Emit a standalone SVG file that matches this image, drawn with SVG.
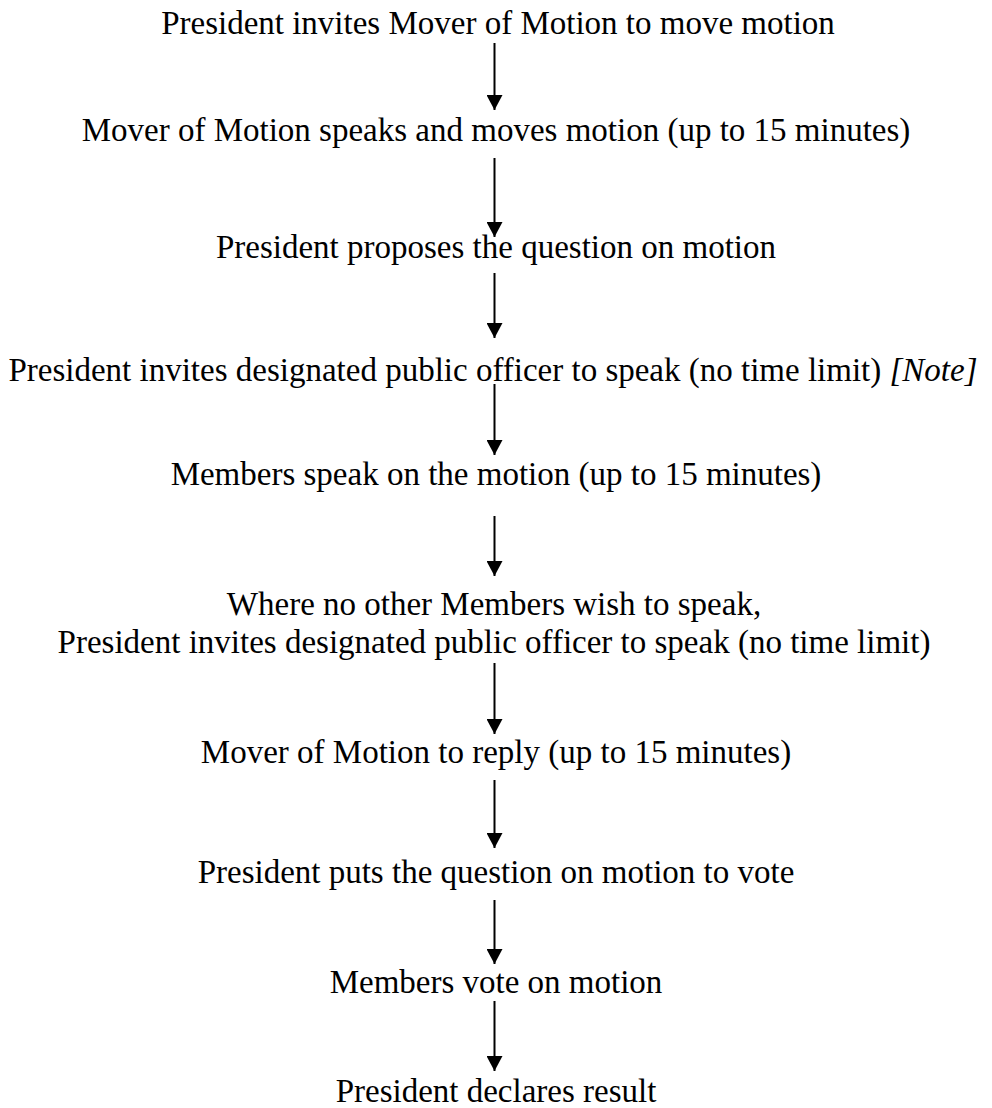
<svg xmlns="http://www.w3.org/2000/svg" width="992" height="1108" viewBox="0 0 992 1108">
<style>
.t{font-family:"Liberation Serif","Times New Roman",serif;font-size:33px;fill:#000;text-anchor:middle}
.i{font-style:italic}
.c line{stroke:#000;stroke-width:2}
</style>
<defs>
<marker id="ah" markerUnits="userSpaceOnUse" markerWidth="16" markerHeight="16" refX="15" refY="8" orient="auto">
<path d="M0,0 L15,8 L0,16 Z" fill="#000"/>
</marker>
</defs>
<rect width="992" height="1108" fill="#fff"/>
<g id="n1"><text class="t" x="498" y="34">President invites Mover of Motion to move motion</text></g>
<g id="n2"><text class="t" x="496" y="141">Mover of Motion speaks and moves motion (up to 15 minutes)</text></g>
<g id="n3"><text class="t" x="496" y="258">President proposes the question on motion</text></g>
<g id="n4"><text class="t" x="493" y="381">President invites designated public officer to speak (no time limit) <tspan class="i">[Note]</tspan></text></g>
<g id="n5"><text class="t" x="496" y="485">Members speak on the motion (up to 15 minutes)</text></g>
<g id="n6"><text class="t" x="494" y="615">Where no other Members wish to speak,</text><text class="t" x="494" y="653">President invites designated public officer to speak (no time limit)</text></g>
<g id="n7"><text class="t" x="496" y="763">Mover of Motion to reply (up to 15 minutes)</text></g>
<g id="n8"><text class="t" x="496" y="883">President puts the question on motion to vote</text></g>
<g id="n9"><text class="t" x="496" y="993">Members vote on motion</text></g>
<g id="n10"><text class="t" x="496" y="1102">President declares result</text></g>
<g id="connectors" class="c">
<line x1="494.5" y1="43" x2="494.5" y2="110" marker-end="url(#ah)"/>
<line x1="494.5" y1="158" x2="494.5" y2="237" marker-end="url(#ah)"/>
<line x1="494.5" y1="273" x2="494.5" y2="338" marker-end="url(#ah)"/>
<line x1="494.5" y1="384" x2="494.5" y2="455" marker-end="url(#ah)"/>
<line x1="494.5" y1="516" x2="494.5" y2="576" marker-end="url(#ah)"/>
<line x1="494.5" y1="663" x2="494.5" y2="734" marker-end="url(#ah)"/>
<line x1="494.5" y1="780" x2="494.5" y2="848" marker-end="url(#ah)"/>
<line x1="494.5" y1="900" x2="494.5" y2="964" marker-end="url(#ah)"/>
<line x1="494.5" y1="1001" x2="494.5" y2="1071" marker-end="url(#ah)"/>
</g>
</svg>
